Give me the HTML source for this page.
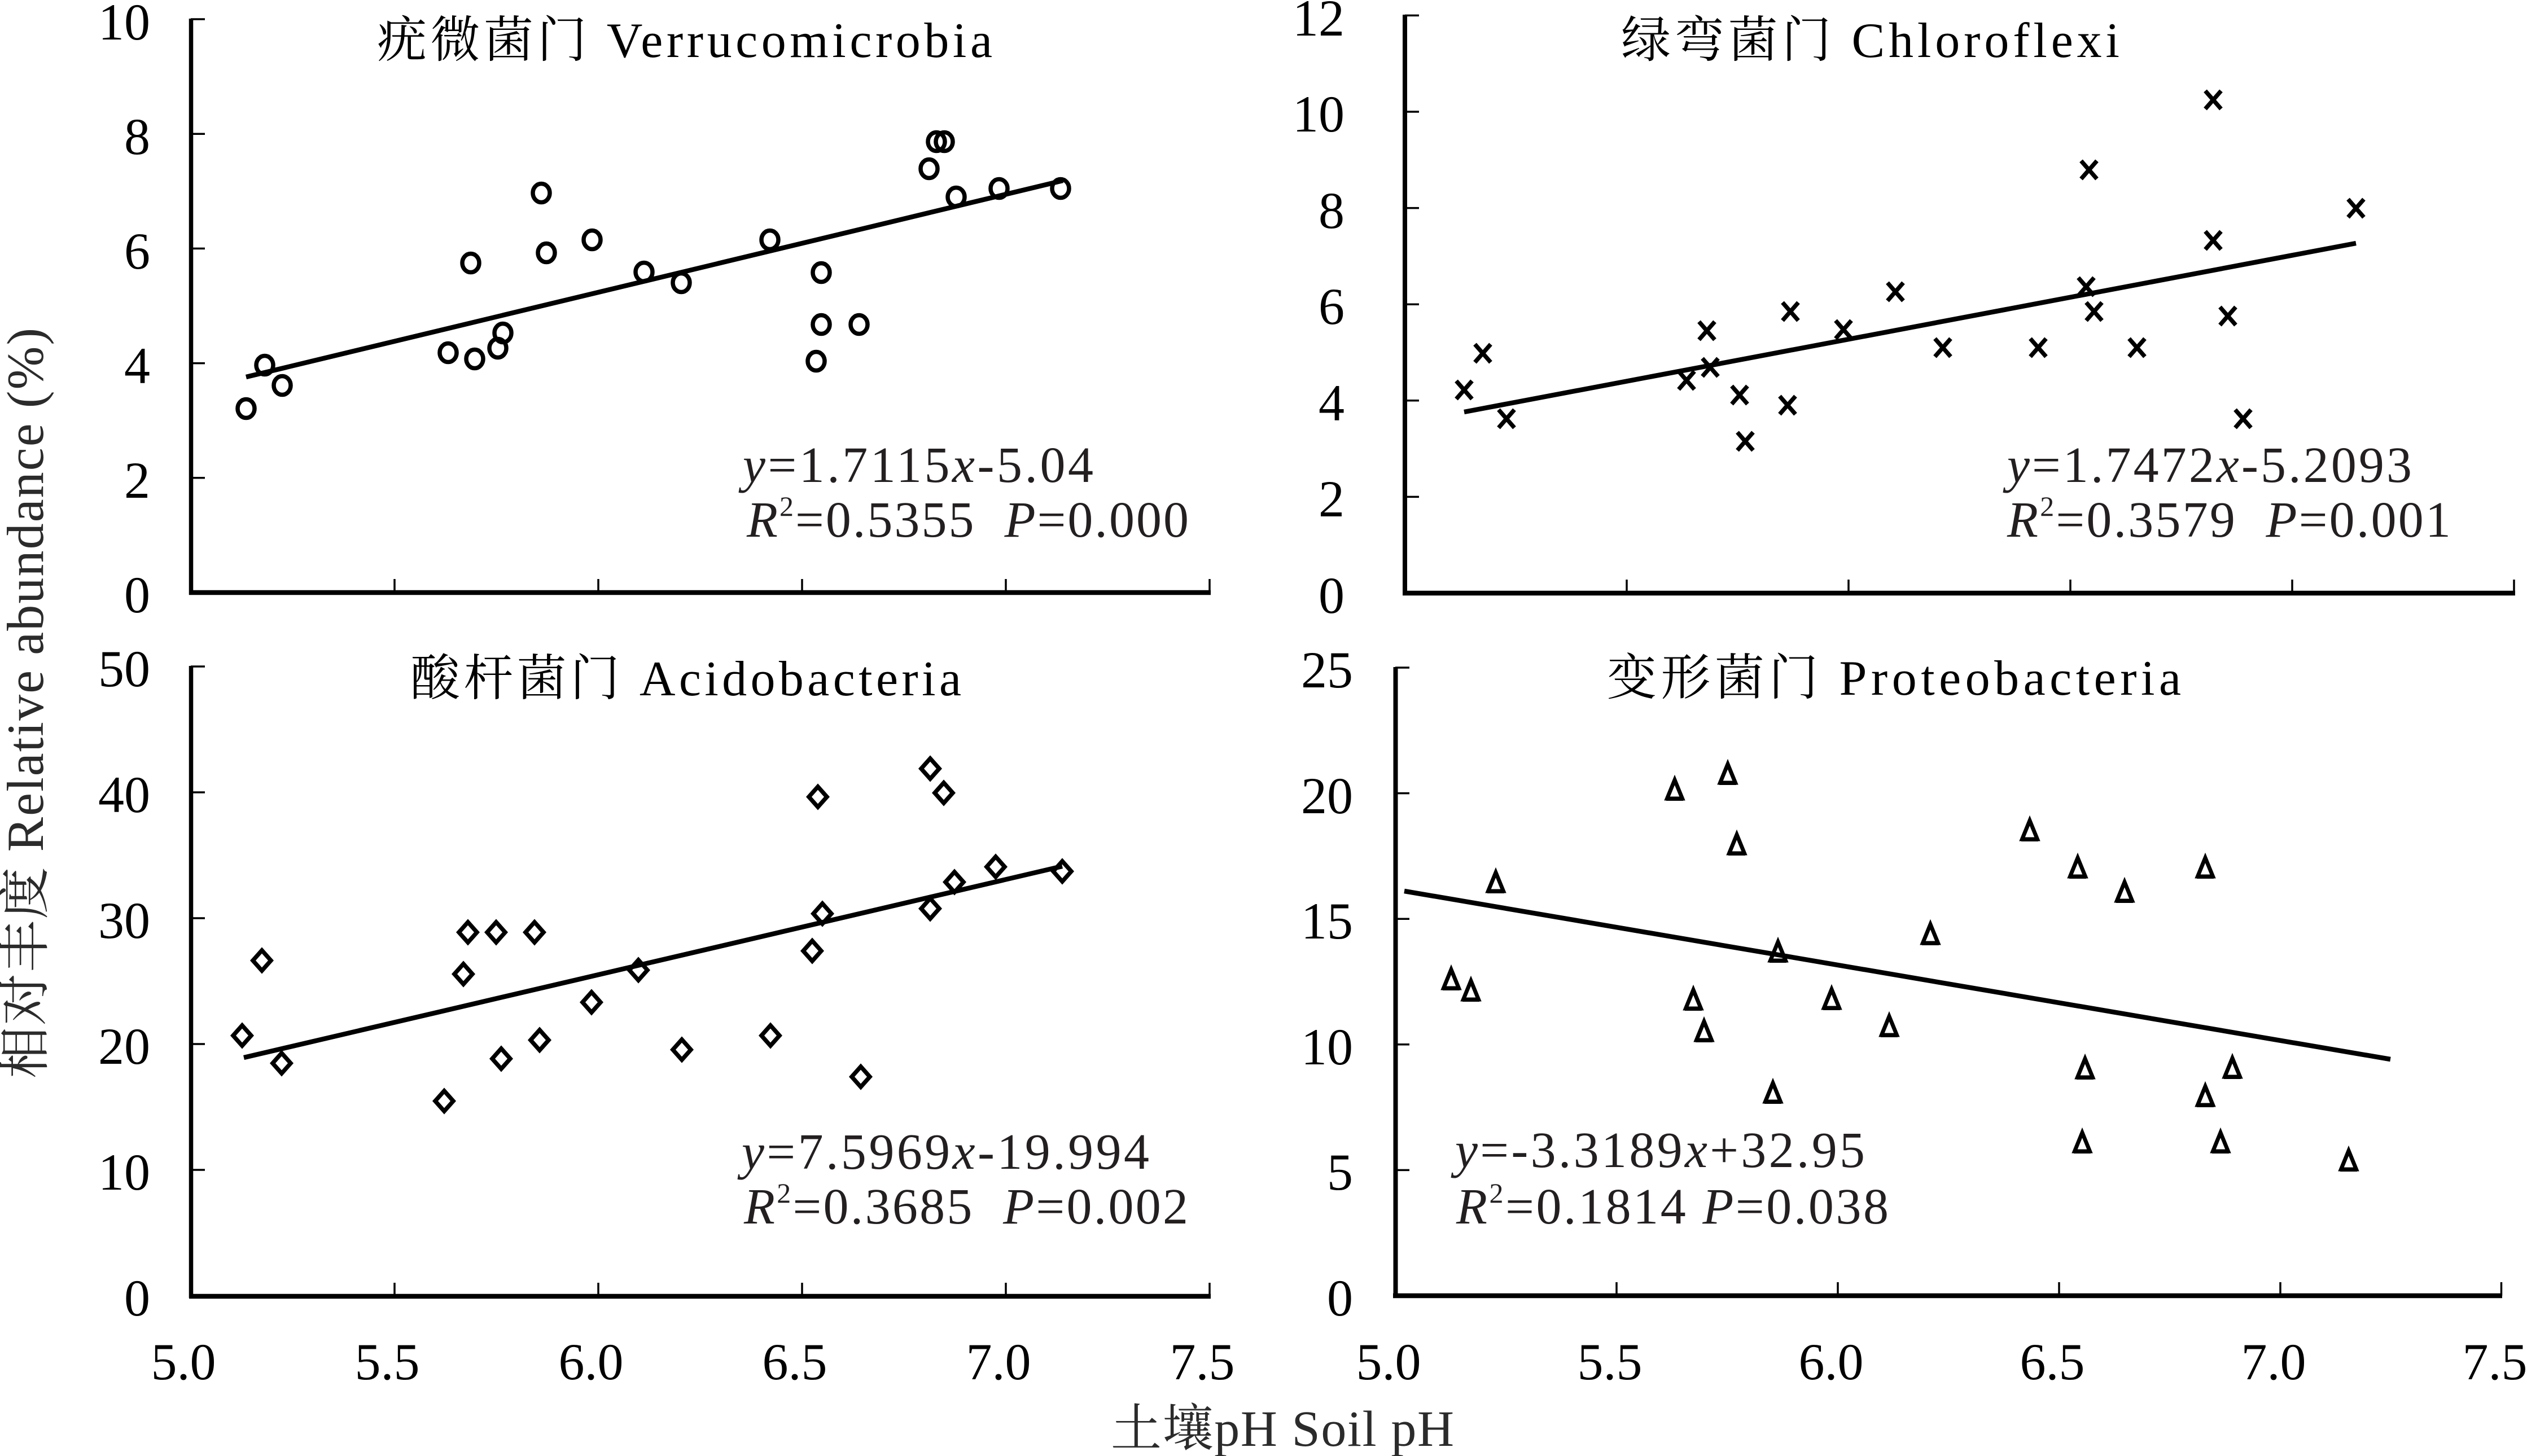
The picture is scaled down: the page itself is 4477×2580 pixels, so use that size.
<!DOCTYPE html>
<html>
<head>
<meta charset="utf-8">
<style>
html,body{margin:0;padding:0;background:#fff;}
svg{display:block;}
svg text{font-family:"Liberation Serif","Times New Roman","Noto Serif CJK SC",serif;}
</style>
</head>
<body>
<svg width="4477" height="2580" viewBox="0 0 4477 2580" xmlns="http://www.w3.org/2000/svg" font-family="'Liberation Serif', 'Times New Roman', 'Noto Serif CJK SC', serif">
<defs>
  <ellipse id="mc" cx="0" cy="0" rx="15" ry="16.5" fill="none" stroke="#000" stroke-width="7.5"/>
  <path id="mx" d="M-14,-16 L14,16 M14,-16 L-14,16" fill="none" stroke="#000" stroke-width="7.5"/>
  <path id="md" d="M0,-18 L16,0 L0,18 L-16,0 Z" fill="none" stroke="#000" stroke-width="7.5" stroke-linejoin="miter"/>
  <g id="mt">
    <path d="M0,-17 L13.5,16 L-13.5,16 Z" fill="none" stroke="#000" stroke-width="7" stroke-linejoin="miter"/>
    <line x1="-15" y1="17" x2="15" y2="17" stroke="#000" stroke-width="6"/>
  </g>
</defs>
<rect x="0" y="0" width="4477" height="2580" fill="#fff"/>

<!-- ============ AXES ============ -->
<g stroke="#000" fill="none">
  <!-- top-left -->
  <line x1="338.5" y1="33" x2="338.5" y2="1054" stroke-width="7.5"/>
  <line x1="335" y1="1050" x2="2145" y2="1050" stroke-width="8.5"/>
  <g stroke-width="3.5">
    <line x1="338" y1="34" x2="363" y2="34"/>
    <line x1="338" y1="237.2" x2="363" y2="237.2"/>
    <line x1="338" y1="440.4" x2="363" y2="440.4"/>
    <line x1="338" y1="643.6" x2="363" y2="643.6"/>
    <line x1="338" y1="846.8" x2="363" y2="846.8"/>
    <line x1="699" y1="1050" x2="699" y2="1026"/>
    <line x1="1060" y1="1050" x2="1060" y2="1026"/>
    <line x1="1421" y1="1050" x2="1421" y2="1026"/>
    <line x1="1782" y1="1050" x2="1782" y2="1026"/>
    <line x1="2143" y1="1050" x2="2143" y2="1026"/>
  </g>
  <!-- top-right -->
  <line x1="2489" y1="26" x2="2489" y2="1055" stroke-width="8"/>
  <line x1="2485" y1="1051" x2="4456" y2="1051" stroke-width="8.5"/>
  <g stroke-width="3.5">
    <line x1="2489" y1="27.4" x2="2514" y2="27.4"/>
    <line x1="2489" y1="198" x2="2514" y2="198"/>
    <line x1="2489" y1="368.6" x2="2514" y2="368.6"/>
    <line x1="2489" y1="539.2" x2="2514" y2="539.2"/>
    <line x1="2489" y1="709.8" x2="2514" y2="709.8"/>
    <line x1="2489" y1="880.4" x2="2514" y2="880.4"/>
    <line x1="2882" y1="1051" x2="2882" y2="1027"/>
    <line x1="3275" y1="1051" x2="3275" y2="1027"/>
    <line x1="3668" y1="1051" x2="3668" y2="1027"/>
    <line x1="4061" y1="1051" x2="4061" y2="1027"/>
    <line x1="4454" y1="1051" x2="4454" y2="1027"/>
  </g>
  <!-- bottom-left -->
  <line x1="338.5" y1="1180" x2="338.5" y2="2300" stroke-width="7.5"/>
  <line x1="335" y1="2297" x2="2145" y2="2297" stroke-width="8.5"/>
  <g stroke-width="3.5">
    <line x1="338" y1="1181" x2="363" y2="1181"/>
    <line x1="338" y1="1404" x2="363" y2="1404"/>
    <line x1="338" y1="1627" x2="363" y2="1627"/>
    <line x1="338" y1="1850" x2="363" y2="1850"/>
    <line x1="338" y1="2073" x2="363" y2="2073"/>
    <line x1="699" y1="2297" x2="699" y2="2273"/>
    <line x1="1060" y1="2297" x2="1060" y2="2273"/>
    <line x1="1421" y1="2297" x2="1421" y2="2273"/>
    <line x1="1782" y1="2297" x2="1782" y2="2273"/>
    <line x1="2143" y1="2297" x2="2143" y2="2273"/>
  </g>
  <!-- bottom-right -->
  <line x1="2472.5" y1="1182" x2="2472.5" y2="2300" stroke-width="8"/>
  <line x1="2468" y1="2296" x2="4433" y2="2296" stroke-width="8.5"/>
  <g stroke-width="3.5">
    <line x1="2472" y1="1183" x2="2497" y2="1183"/>
    <line x1="2472" y1="1405.6" x2="2497" y2="1405.6"/>
    <line x1="2472" y1="1628.2" x2="2497" y2="1628.2"/>
    <line x1="2472" y1="1850.8" x2="2497" y2="1850.8"/>
    <line x1="2472" y1="2073.4" x2="2497" y2="2073.4"/>
    <line x1="2864" y1="2296" x2="2864" y2="2272"/>
    <line x1="3256" y1="2296" x2="3256" y2="2272"/>
    <line x1="3648" y1="2296" x2="3648" y2="2272"/>
    <line x1="4040" y1="2296" x2="4040" y2="2272"/>
    <line x1="4431.5" y1="2296" x2="4431.5" y2="2272"/>
  </g>
</g>

<!-- ============ TICK LABELS ============ -->
<g font-size="92" fill="#000" text-anchor="end" font-family="'Liberation Serif', 'Times New Roman', serif">
  <!-- top-left -->
  <text x="266" y="70">10</text>
  <text x="266" y="273">8</text>
  <text x="266" y="476">6</text>
  <text x="266" y="679">4</text>
  <text x="266" y="882">2</text>
  <text x="266" y="1085">0</text>
  <!-- top-right -->
  <text x="2382" y="63">12</text>
  <text x="2382" y="233">10</text>
  <text x="2382" y="404">8</text>
  <text x="2382" y="574">6</text>
  <text x="2382" y="745">4</text>
  <text x="2382" y="915">2</text>
  <text x="2382" y="1086">0</text>
  <!-- bottom-left -->
  <text x="266" y="1216">50</text>
  <text x="266" y="1439">40</text>
  <text x="266" y="1662">30</text>
  <text x="266" y="1885">20</text>
  <text x="266" y="2108">10</text>
  <text x="266" y="2331">0</text>
  <!-- bottom-right -->
  <text x="2397" y="1218">25</text>
  <text x="2397" y="1441">20</text>
  <text x="2397" y="1663">15</text>
  <text x="2397" y="1886">10</text>
  <text x="2397" y="2108">5</text>
  <text x="2397" y="2331">0</text>
</g>
<g font-size="92" fill="#000" text-anchor="middle" font-family="'Liberation Serif', 'Times New Roman', serif">
  <text x="325" y="2444">5.0</text>
  <text x="686" y="2444">5.5</text>
  <text x="1047" y="2444">6.0</text>
  <text x="1408" y="2444">6.5</text>
  <text x="1769" y="2444">7.0</text>
  <text x="2130" y="2444">7.5</text>
  <text x="2460" y="2444">5.0</text>
  <text x="2852" y="2444">5.5</text>
  <text x="3244" y="2444">6.0</text>
  <text x="3636" y="2444">6.5</text>
  <text x="4028" y="2444">7.0</text>
  <text x="4420" y="2444">7.5</text>
</g>

<!-- ============ AXIS TITLES ============ -->
<text transform="translate(76,1911) rotate(-90)" font-size="92" fill="#2b2b2b" font-family="'Liberation Serif', 'Noto Serif CJK SC', serif" textLength="1330" lengthAdjust="spacing">相对丰度 Relative abundance (%)</text>
<text x="1968" y="2562" font-size="90" fill="#2b2b2b" font-family="'Liberation Serif', 'Noto Serif CJK SC', serif" textLength="608" lengthAdjust="spacing">土壤pH Soil pH</text>

<!-- ============ PANEL TITLES ============ -->
<g font-size="88" fill="#000" font-family="'Liberation Serif', 'Noto Serif CJK SC', serif">
  <text x="668" y="101" textLength="1090" lengthAdjust="spacing">疣微菌门 Verrucomicrobia</text>
  <text x="2872" y="101" textLength="883" lengthAdjust="spacing">绿弯菌门 Chloroflexi</text>
  <text x="727" y="1232" textLength="976" lengthAdjust="spacing">酸杆菌门 Acidobacteria</text>
  <text x="2847" y="1231" textLength="1017" lengthAdjust="spacing">变形菌门 Proteobacteria</text>
</g>

<!-- ============ EQUATIONS ============ -->
<g font-size="90" fill="#231f20" font-family="'Liberation Serif', 'Times New Roman', serif">
  <text x="1316" y="854" textLength="621" lengthAdjust="spacing"><tspan font-style="italic">y</tspan>=1.7115<tspan font-style="italic">x</tspan>-5.04</text>
  <text x="1323" y="951" textLength="783" lengthAdjust="spacing"><tspan font-style="italic">R</tspan><tspan font-size="50" dy="-37">2</tspan><tspan dy="37">=0.5355&#160;&#160;</tspan><tspan font-style="italic">P</tspan>=0.000</text>

  <text x="3556" y="854" textLength="717" lengthAdjust="spacing"><tspan font-style="italic">y</tspan>=1.7472<tspan font-style="italic">x</tspan>-5.2093</text>
  <text x="3556" y="951" textLength="786" lengthAdjust="spacing"><tspan font-style="italic">R</tspan><tspan font-size="50" dy="-37">2</tspan><tspan dy="37">=0.3579&#160;&#160;</tspan><tspan font-style="italic">P</tspan>=0.001</text>

  <text x="1314" y="2071" textLength="722" lengthAdjust="spacing"><tspan font-style="italic">y</tspan>=7.5969<tspan font-style="italic">x</tspan>-19.994</text>
  <text x="1318" y="2168" textLength="787" lengthAdjust="spacing"><tspan font-style="italic">R</tspan><tspan font-size="50" dy="-37">2</tspan><tspan dy="37">=0.3685&#160;&#160;</tspan><tspan font-style="italic">P</tspan>=0.002</text>

  <text x="2578" y="2068" textLength="726" lengthAdjust="spacing"><tspan font-style="italic">y</tspan>=-3.3189<tspan font-style="italic">x</tspan>+32.95</text>
  <text x="2580" y="2168" textLength="766" lengthAdjust="spacing"><tspan font-style="italic">R</tspan><tspan font-size="50" dy="-37">2</tspan><tspan dy="37">=0.1814&#160;</tspan><tspan font-style="italic">P</tspan>=0.038</text>
</g>

<!-- ============ REGRESSION LINES ============ -->
<g stroke="#000" stroke-width="8.5" fill="none">
  <line x1="436" y1="668" x2="1883" y2="320"/>
  <line x1="2594" y1="730" x2="4174" y2="431"/>
  <line x1="432" y1="1874" x2="1882" y2="1535"/>
  <line x1="2488" y1="1579" x2="4235" y2="1877"/>
</g>

<!-- ============ TOP-LEFT: circles ============ -->
<g>
  <use href="#mc" x="436" y="724"/>
  <use href="#mc" x="469" y="647"/>
  <use href="#mc" x="500" y="683"/>
  <use href="#mc" x="794" y="625"/>
  <use href="#mc" x="841" y="636"/>
  <use href="#mc" x="834" y="466"/>
  <use href="#mc" x="882" y="617"/>
  <use href="#mc" x="891" y="590"/>
  <use href="#mc" x="959" y="342"/>
  <use href="#mc" x="968" y="448"/>
  <use href="#mc" x="1049" y="425"/>
  <use href="#mc" x="1141" y="482"/>
  <use href="#mc" x="1207" y="501"/>
  <use href="#mc" x="1364" y="425"/>
  <use href="#mc" x="1455" y="483"/>
  <use href="#mc" x="1455" y="575"/>
  <use href="#mc" x="1446" y="640"/>
  <use href="#mc" x="1522" y="575"/>
  <use href="#mc" x="1646" y="299"/>
  <use href="#mc" x="1659" y="251"/>
  <use href="#mc" x="1673" y="251"/>
  <use href="#mc" x="1694" y="349"/>
  <use href="#mc" x="1770" y="334"/>
  <use href="#mc" x="1879" y="334"/>
</g>

<!-- ============ TOP-RIGHT: crosses ============ -->
<g>
  <use href="#mx" x="2594" y="691"/>
  <use href="#mx" x="2627" y="626"/>
  <use href="#mx" x="2669" y="742"/>
  <use href="#mx" x="2988" y="674"/>
  <use href="#mx" x="3024" y="586"/>
  <use href="#mx" x="3030" y="651"/>
  <use href="#mx" x="3082" y="700"/>
  <use href="#mx" x="3092" y="782"/>
  <use href="#mx" x="3167" y="718"/>
  <use href="#mx" x="3172" y="552"/>
  <use href="#mx" x="3266" y="584"/>
  <use href="#mx" x="3358" y="517"/>
  <use href="#mx" x="3442" y="616"/>
  <use href="#mx" x="3611" y="616"/>
  <use href="#mx" x="3701" y="301"/>
  <use href="#mx" x="3696" y="508"/>
  <use href="#mx" x="3710" y="552"/>
  <use href="#mx" x="3786" y="616"/>
  <use href="#mx" x="3921" y="177"/>
  <use href="#mx" x="3921" y="426"/>
  <use href="#mx" x="3947" y="560"/>
  <use href="#mx" x="3974" y="742"/>
  <use href="#mx" x="4174" y="369"/>
</g>

<!-- ============ BOTTOM-LEFT: diamonds ============ -->
<g>
  <use href="#md" x="429" y="1835"/>
  <use href="#md" x="464" y="1702"/>
  <use href="#md" x="499" y="1884"/>
  <use href="#md" x="787" y="1951"/>
  <use href="#md" x="821" y="1726"/>
  <use href="#md" x="829" y="1652"/>
  <use href="#md" x="879" y="1652"/>
  <use href="#md" x="888" y="1876"/>
  <use href="#md" x="947" y="1652"/>
  <use href="#md" x="956" y="1843"/>
  <use href="#md" x="1048" y="1776"/>
  <use href="#md" x="1131" y="1719"/>
  <use href="#md" x="1208" y="1860"/>
  <use href="#md" x="1365" y="1835"/>
  <use href="#md" x="1439" y="1685"/>
  <use href="#md" x="1449" y="1412"/>
  <use href="#md" x="1457" y="1619"/>
  <use href="#md" x="1525" y="1908"/>
  <use href="#md" x="1648" y="1362"/>
  <use href="#md" x="1672" y="1405"/>
  <use href="#md" x="1648" y="1610"/>
  <use href="#md" x="1691" y="1563"/>
  <use href="#md" x="1764" y="1536"/>
  <use href="#md" x="1882" y="1544"/>
</g>

<!-- ============ BOTTOM-RIGHT: triangles ============ -->
<g>
  <use href="#mt" x="2571" y="1735"/>
  <use href="#mt" x="2606" y="1755"/>
  <use href="#mt" x="2650" y="1563"/>
  <use href="#mt" x="2967" y="1399"/>
  <use href="#mt" x="3061" y="1371"/>
  <use href="#mt" x="3077" y="1496"/>
  <use href="#mt" x="3000" y="1771"/>
  <use href="#mt" x="3019" y="1827"/>
  <use href="#mt" x="3141" y="1936"/>
  <use href="#mt" x="3150" y="1686"/>
  <use href="#mt" x="3245" y="1770"/>
  <use href="#mt" x="3347" y="1818"/>
  <use href="#mt" x="3420" y="1655"/>
  <use href="#mt" x="3596" y="1471"/>
  <use href="#mt" x="3681" y="1537"/>
  <use href="#mt" x="3694" y="1893"/>
  <use href="#mt" x="3689" y="2024"/>
  <use href="#mt" x="3764" y="1580"/>
  <use href="#mt" x="3907" y="1537"/>
  <use href="#mt" x="3907" y="1942"/>
  <use href="#mt" x="3934" y="2024"/>
  <use href="#mt" x="3955" y="1892"/>
  <use href="#mt" x="4161" y="2056"/>
</g>
</svg>
</body>
</html>
